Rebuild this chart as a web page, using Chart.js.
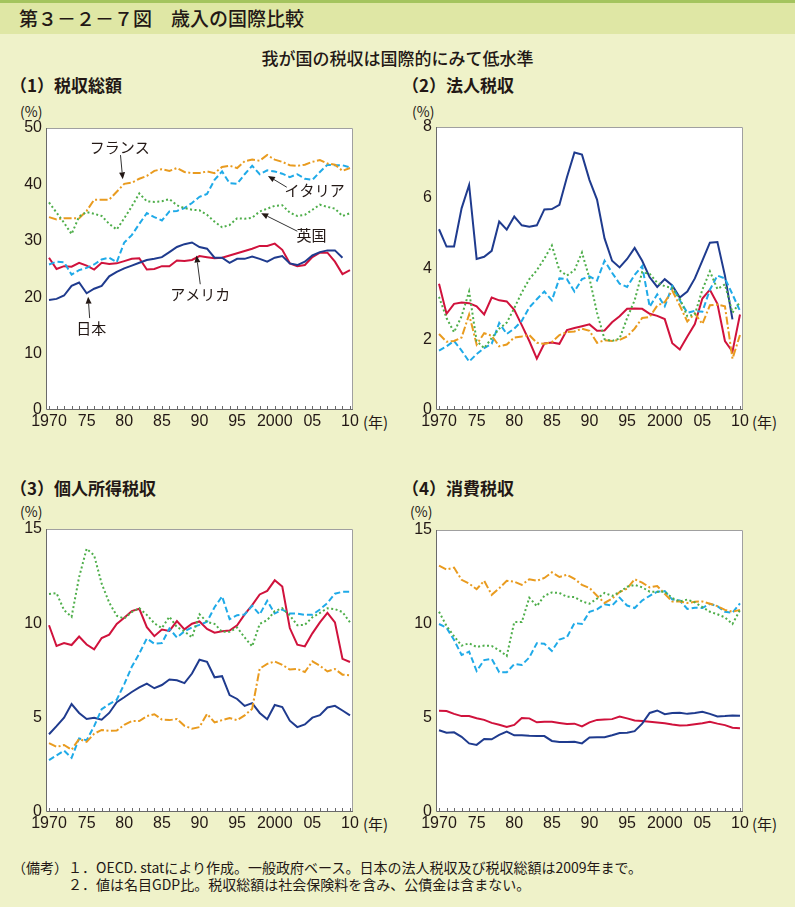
<!DOCTYPE html>
<html lang="ja">
<head>
<meta charset="utf-8">
<script src="https://cdn.jsdelivr.net/npm/chart.js@4/dist/chart.umd.min.js"></script>
<style>
  body { margin: 0; width: 795px; height: 907px; background: #eff2c9; position: relative; overflow: hidden;
         font-family: "Noto Sans CJK JP", "Noto Sans", sans-serif; color: #231815; }
  .abs { position: absolute; white-space: nowrap; }
  #topline { left: 0; top: 0; width: 795px; height: 3px; background: #a4c45e; }
  #band { left: 0; top: 3px; width: 795px; height: 31px; background: #dfe7a5; }
  #title { left: 19px; top: 4px; font-size: 19px; font-weight: 500; }
  #subtitle { left: 0; width: 795px; top: 45px; text-align: center; font-size: 17px; font-weight: 500; }
  .ptitle { font-size: 17px; font-weight: 700; }
  .unit { font-size: 14px; }
  .year { font-size: 15px; }
  .note { font-size: 14px; left: 12px; }
  canvas { position: absolute; }
</style>
</head>
<body>
<div class="abs" id="topline"></div>
<div class="abs" id="band"></div>
<div class="abs" id="title">第３－２－７図　歳入の国際比較</div>
<div class="abs" id="subtitle">我が国の税収は国際的にみて低水準</div>

<div class="abs ptitle" style="left:10px;top:72px">（1）税収総額</div>
<div class="abs ptitle" style="left:402px;top:72px">（2）法人税収</div>
<div class="abs ptitle" style="left:10px;top:475px">（3）個人所得税収</div>
<div class="abs ptitle" style="left:402px;top:475px">（4）消費税収</div>

<div class="abs unit" style="left:20px;top:101px">(%)</div>
<div class="abs unit" style="left:412px;top:101px">(%)</div>
<div class="abs unit" style="left:20px;top:501px">(%)</div>
<div class="abs unit" style="left:410px;top:501px">(%)</div>

<div class="abs year" style="left:363px;top:411px">(年)</div>
<div class="abs year" style="left:752px;top:411px">(年)</div>
<div class="abs year" style="left:363px;top:813px">(年)</div>
<div class="abs year" style="left:752px;top:813px">(年)</div>

<div class="abs note" style="top:857px">（備考）１．OECD. statにより作成。一般政府ベース。日本の法人税収及び税収総額は2009年まで。</div>
<div class="abs note" style="top:874px;left:68px">２．値は名目GDP比。税収総額は社会保険料を含み、公債金は含まない。</div>

<canvas id="c1" width="400" height="340" style="left:0;top:110px"></canvas>
<canvas id="c2" width="405" height="340" style="left:390px;top:110px"></canvas>
<canvas id="c3" width="400" height="340" style="left:0;top:510px"></canvas>
<canvas id="c4" width="405" height="340" style="left:390px;top:510px"></canvas>

<script>
// x axis: 1970 .. 2010
const years = Array.from({ length: 41 }, (_, i) => 1970 + i);

// (1) 税収総額 — Japan runs to 2009
const totalJapan  = [19.5,19.7,20.3,22.0,22.6,20.7,21.5,22.0,23.7,24.5, 25.1,25.6,26.1,26.6,26.8,27.1,28.0,28.9,29.4,29.7, 28.9,28.6,27.0,27.0,26.1,26.8,26.8,27.2,26.8,26.3, 27.0,27.3,26.0,25.7,26.3,27.4,28.0,28.3,28.3,27.0];
const totalUSA    = [27.0,25.0,25.5,25.4,26.1,25.6,24.9,26.1,25.9,26.0, 26.4,26.8,26.9,24.9,25.0,25.5,25.5,26.5,26.4,26.6, 27.3,27.1,26.9,27.0,27.4,27.8,28.2,28.6,29.1,29.1, 29.5,28.4,26.0,25.5,25.7,27.1,27.9,27.9,26.3,24.1, 24.8];
const totalFrance = [34.2,33.8,34.0,34.0,34.0,35.3,37.3,37.3,37.3,38.7, 40.1,40.3,41.0,41.5,42.4,42.7,42.4,42.9,42.2,42.0, 42.0,42.3,42.0,43.1,43.3,42.9,44.1,44.4,44.2,45.2, 44.4,44.0,43.4,43.3,43.5,44.0,44.3,43.7,43.5,42.4, 42.9];
const totalItaly  = [25.8,26.3,26.2,24.0,24.8,25.2,25.8,26.7,27.0,26.2, 29.7,31.0,33.0,34.9,34.2,33.6,35.2,35.3,35.8,36.7, 37.8,38.3,40.8,42.3,40.2,40.1,41.8,43.3,41.8,42.5, 42.3,41.9,41.3,41.8,41.0,40.8,42.2,43.5,43.4,43.4, 43.0];
const totalUK     = [36.8,35.0,33.2,31.2,34.3,35.1,34.8,34.4,33.0,32.0, 34.0,36.1,38.4,37.0,36.9,37.0,37.4,36.3,35.8,35.5, 35.4,34.6,33.4,32.4,32.8,34.0,33.9,34.1,35.2,35.7, 36.2,36.3,35.0,34.4,34.6,35.5,36.4,36.0,35.7,34.4, 34.9];

// (2) 法人税収 — Japan runs to 2009
const corpJapan  = [5.11,4.62,4.62,5.70,6.36,4.27,4.33,4.50,5.33,5.10, 5.47,5.22,5.18,5.22,5.67,5.68,5.80,6.58,7.28,7.22, 6.50,5.95,4.85,4.22,4.03,4.27,4.58,4.22,3.75,3.48, 3.70,3.52,3.18,3.35,3.72,4.22,4.73,4.75,3.80,2.56];
const corpUSA    = [3.57,2.72,3.00,3.04,3.02,2.93,2.70,3.18,3.10,3.07, 2.83,2.40,1.95,1.45,1.88,1.91,1.87,2.26,2.32,2.37, 2.42,2.24,2.25,2.48,2.65,2.86,2.87,2.86,2.72,2.66, 2.57,1.89,1.71,2.08,2.43,3.15,3.40,3.00,1.95,1.65, 2.70];
const corpFrance = [2.15,1.93,1.95,2.05,2.70,1.85,2.17,2.10,1.80,1.85, 2.05,2.08,2.12,1.90,1.87,1.92,2.12,2.20,2.22,2.30, 2.24,1.90,1.97,1.95,1.98,2.08,2.30,2.60,2.63,2.95, 3.05,3.38,2.95,2.50,2.73,2.43,2.96,2.98,2.93,1.45, 2.12];
const corpItaly  = [1.68,1.80,1.95,1.68,1.37,1.58,1.75,1.87,2.46,2.15, 2.30,2.52,2.90,3.13,3.35,3.10,3.72,3.70,3.35,3.70, 3.78,3.66,4.22,3.88,3.57,3.48,3.82,4.07,2.92,3.27, 2.93,3.50,3.10,2.75,2.80,2.78,3.40,3.80,3.72,3.27, 2.80];
const corpUK     = [3.20,2.60,2.20,2.65,3.35,1.95,1.75,2.03,2.30,2.47, 2.88,3.32,3.70,3.95,4.28,4.65,3.95,3.80,3.95,4.45, 3.72,2.75,2.00,1.95,2.02,2.60,3.10,3.90,3.85,3.60, 3.50,3.45,3.15,2.65,2.70,3.40,3.92,3.42,3.55,2.75, 3.05];

// (3) 個人所得税収
const incJapan  = [4.12,4.55,5.00,5.72,5.25,4.93,4.99,4.89,5.25,5.82, 6.08,6.36,6.60,6.80,6.56,6.73,7.02,6.98,6.83,7.34, 8.07,7.96,7.14,7.20,6.20,5.99,5.62,5.77,5.25,4.92, 5.67,5.56,4.84,4.50,4.64,5.00,5.13,5.54,5.63,5.38, 5.12];
const incUSA    = [9.90,8.80,8.95,8.85,9.30,8.88,8.62,9.22,9.40,9.97, 10.30,10.65,10.77,9.80,9.32,9.67,9.60,10.12,9.68,9.98, 10.10,9.70,9.50,9.58,9.62,9.90,10.47,10.97,11.53,11.72, 12.28,11.95,9.75,8.87,8.78,9.47,10.05,10.55,10.05,8.12, 7.95];
const incFrance = [3.65,3.45,3.55,3.30,3.87,3.72,4.15,4.35,4.30,4.32, 4.62,4.82,4.82,5.08,5.18,4.90,4.87,4.93,4.57,4.42, 4.50,5.20,4.75,4.87,4.98,4.87,5.12,5.47,7.60,7.85, 7.98,7.80,7.55,7.58,7.42,7.98,7.75,7.45,7.58,7.28, 7.25];
const incItaly  = [2.75,3.00,3.25,2.87,3.90,3.80,4.55,5.45,5.72,5.95, 6.78,7.70,8.40,9.20,8.92,8.95,9.72,9.25,9.58,9.78, 9.92,10.08,10.85,11.43,10.22,10.43,10.47,10.93,10.47,11.20, 10.52,10.73,10.52,10.52,10.45,10.45,10.73,11.08,11.57,11.67, 11.67];
const incUK     = [11.55,11.60,10.70,10.35,12.45,13.95,13.60,12.10,11.10,10.40, 10.25,10.60,10.80,10.45,10.00,9.75,10.35,9.80,9.58,9.25, 10.48,10.07,9.97,9.55,9.55,9.78,9.25,8.78,9.97,10.17, 10.65,10.80,10.42,9.90,9.92,10.32,10.55,10.80,10.75,10.60, 10.05];

// (4) 消費税収
const conJapan  = [4.35,4.22,4.24,4.00,3.65,3.57,3.88,3.87,4.10,4.28, 4.08,4.08,4.05,4.04,4.04,3.78,3.73,3.73,3.74,3.65, 3.96,3.98,3.98,4.08,4.20,4.22,4.30,4.70,5.27,5.40, 5.20,5.27,5.28,5.22,5.27,5.33,5.22,5.08,5.10,5.13, 5.12];
const conUSA    = [5.38,5.37,5.22,5.10,5.10,4.99,4.90,4.74,4.64,4.52, 4.63,5.00,4.98,4.77,4.80,4.80,4.74,4.68,4.70,4.55, 4.77,4.90,4.92,4.94,5.08,4.98,4.87,4.84,4.80,4.76, 4.72,4.65,4.60,4.62,4.67,4.72,4.80,4.70,4.62,4.48, 4.45];
const conFrance = [13.10,12.90,13.00,12.35,12.15,11.85,12.30,11.55,11.90,12.30, 12.25,12.08,12.38,12.30,12.45,12.75,12.50,12.62,12.40,12.08, 11.92,11.50,11.12,11.35,11.70,11.88,12.38,12.20,11.95,12.02, 11.60,11.20,11.20,11.12,11.18,11.20,11.08,10.95,10.75,10.65, 10.75];
const conItaly  = [10.00,9.80,9.15,8.35,8.53,7.50,8.08,8.15,7.43,7.43, 7.87,7.82,8.22,8.98,8.95,8.57,9.17,9.30,10.05,10.00, 10.65,10.78,11.05,10.98,11.40,10.98,10.85,11.25,11.50,11.72, 11.75,11.30,11.25,10.80,10.87,10.85,11.07,10.95,10.65,10.60, 11.10];
const conUK     = [10.65,9.90,9.35,8.85,8.97,8.78,8.85,8.83,8.60,8.30, 10.10,10.10,11.40,10.95,11.50,11.68,11.65,11.45,11.43,11.20, 11.08,11.35,11.65,11.50,11.70,11.98,12.08,11.95,11.72,11.72, 11.72,11.38,11.20,11.30,11.15,10.90,10.65,10.52,10.35,10.00, 10.75];

// series styles, drawn bottom to top
const STYLES = {
  uk:     { color: '#4eae4a', dash: [2, 2.5] },
  france: { color: '#e99b1f', dash: [8, 2.5, 2, 2.5] },
  italy:  { color: '#1faae8', dash: [6, 3] },
  japan:  { color: '#1f3b8e', dash: [] },
  usa:    { color: '#d0123c', dash: [] }
};

// labels with arrows on panel (1), in data coords: text centre, arrow tail, arrow head
const notes1 = [
  { text: 'フランス', at: [1979.4, 46.6], from: [1979.5, 45.2], to: [1979.8, 40.9] },
  { text: 'イタリア', at: [2005.3, 38.9], from: [2001.6, 39.5], to: [1999.1, 41.5] },
  { text: '英国',     at: [2004.9, 31.0], from: [2003.0, 31.7], to: [1998.2, 34.9] },
  { text: 'アメリカ', at: [1990.1, 20.6], from: [1990.1, 22.3], to: [1989.6, 27.4] },
  { text: '日本',     at: [1975.6, 14.5], from: [1975.4, 16.3], to: [1975.2, 20.1] }
];

const toPoints = vals => vals.map((v, i) => ({ x: years[i], y: v }));

const framePlugin = {
  id: 'frame',
  beforeDraw(chart) {
    const { ctx, chartArea: a } = chart;
    ctx.save();
    ctx.fillStyle = '#fff';
    ctx.fillRect(a.left, a.top, a.right - a.left, a.bottom - a.top);
    ctx.restore();
  },
  afterDatasetsDraw(chart) {
    const { ctx, chartArea: a, scales } = chart;
    ctx.save();
    ctx.lineWidth = 1;
    ctx.strokeStyle = '#a0a0a0';
    ctx.beginPath();
    ctx.moveTo(a.left, a.top + 0.5); ctx.lineTo(a.right - 0.5, a.top + 0.5); ctx.lineTo(a.right - 0.5, a.bottom);
    ctx.stroke();
    ctx.strokeStyle = '#6a6a6a';
    ctx.beginPath();
    ctx.moveTo(a.left + 0.5, a.top); ctx.lineTo(a.left + 0.5, a.bottom - 0.5); ctx.lineTo(a.right, a.bottom - 0.5);
    ctx.stroke();
    // inward year ticks on the bottom axis
    ctx.beginPath();
    years.forEach(y => {
      const x = Math.round(scales.x.getPixelForValue(y)) + 0.5;
      ctx.moveTo(x, a.bottom); ctx.lineTo(x, a.bottom - 4);
    });
    ctx.stroke();
    ctx.restore();
  }
};

const notesPlugin = {
  id: 'notes',
  afterDatasetsDraw(chart, args, opts) {
    const items = opts.items || [];
    if (!items.length) return;
    const { ctx, scales: { x, y } } = chart;
    const px = p => [x.getPixelForValue(p[0]), y.getPixelForValue(p[1])];
    ctx.save();
    ctx.strokeStyle = '#333';
    ctx.fillStyle = '#231815';
    ctx.lineWidth = 1;
    ctx.font = '15px "Noto Sans CJK JP"';
    ctx.textAlign = 'center';
    ctx.textBaseline = 'middle';
    items.forEach(n => {
      const [tx, ty] = px(n.at);
      ctx.fillText(n.text, tx, ty);
      const [x0, y0] = px(n.from);
      const [x1, y1] = px(n.to);
      const ang = Math.atan2(y1 - y0, x1 - x0);
      const hx = x1 - 7 * Math.cos(ang), hy = y1 - 7 * Math.sin(ang);
      ctx.beginPath();
      ctx.moveTo(x0, y0); ctx.lineTo(hx, hy);
      ctx.stroke();
      ctx.beginPath();
      ctx.moveTo(x1, y1);
      ctx.lineTo(hx + 3 * Math.sin(ang), hy - 3 * Math.cos(ang));
      ctx.lineTo(hx - 3 * Math.sin(ang), hy + 3 * Math.cos(ang));
      ctx.closePath();
      ctx.fill();
    });
    ctx.restore();
  }
};

function yearLabel(v) {
  if (v % 5 !== 0) return '';
  if (v === 1970 || v === 2000) return String(v);
  return String(v % 100).padStart(2, '0');
}

function renderPanel(canvasId, series, yMax, yStep, pad, notes) {
  const order = ['uk', 'france', 'italy', 'japan', 'usa'];
  return new Chart(document.getElementById(canvasId), {
    type: 'line',
    data: {
      datasets: order.map(k => ({
        label: k,
        data: toPoints(series[k]),
        borderColor: STYLES[k].color,
        borderDash: STYLES[k].dash,
        borderWidth: 2,
        pointRadius: 0,
        tension: 0,
        fill: false
      }))
    },
    options: {
      responsive: false,
      animation: false,
      events: [],
      layout: { padding: pad },
      plugins: { legend: { display: false }, tooltip: { enabled: false }, notes: { items: notes || [] } },
      scales: {
        x: {
          type: 'linear',
          min: 1969.6,
          max: 2010.4,
          afterBuildTicks: s => { s.ticks = years.map(v => ({ value: v })); },
          afterFit: s => { s.height = pad.xh; },
          grid: { display: false, drawTicks: false },
          border: { display: false },
          ticks: {
            autoSkip: false,
            maxRotation: 0,
            padding: 2,
            color: '#231815',
            font: { family: '"Liberation Sans", Arial, sans-serif', size: 16 },
            callback: v => yearLabel(v)
          }
        },
        y: {
          min: 0,
          max: yMax,
          afterFit: s => { s.width = 46; },
          grid: { display: false, drawTicks: false },
          border: { display: false },
          ticks: {
            stepSize: yStep,
            padding: 4,
            color: '#231815',
            font: { family: '"Liberation Sans", Arial, sans-serif', size: 16 }
          }
        }
      }
    },
    plugins: [framePlugin, notesPlugin]
  });
}

renderPanel('c1',
  { japan: totalJapan, usa: totalUSA, france: totalFrance, italy: totalItaly, uk: totalUK },
  50, 10, { top: 18, right: 47, left: 0, bottom: 0, xh: 40 }, notes1);
renderPanel('c2',
  { japan: corpJapan, usa: corpUSA, france: corpFrance, italy: corpItaly, uk: corpUK },
  8, 2, { top: 17, right: 52, left: 0, bottom: 0, xh: 40 });
renderPanel('c3',
  { japan: incJapan, usa: incUSA, france: incFrance, italy: incItaly, uk: incUK },
  15, 5, { top: 19, right: 47, left: 0, bottom: 0, xh: 38 });
renderPanel('c4',
  { japan: conJapan, usa: conUSA, france: conFrance, italy: conItaly, uk: conUK },
  15, 5, { top: 20, right: 52, left: 0, bottom: 0, xh: 38 });
</script>
</body>
</html>
